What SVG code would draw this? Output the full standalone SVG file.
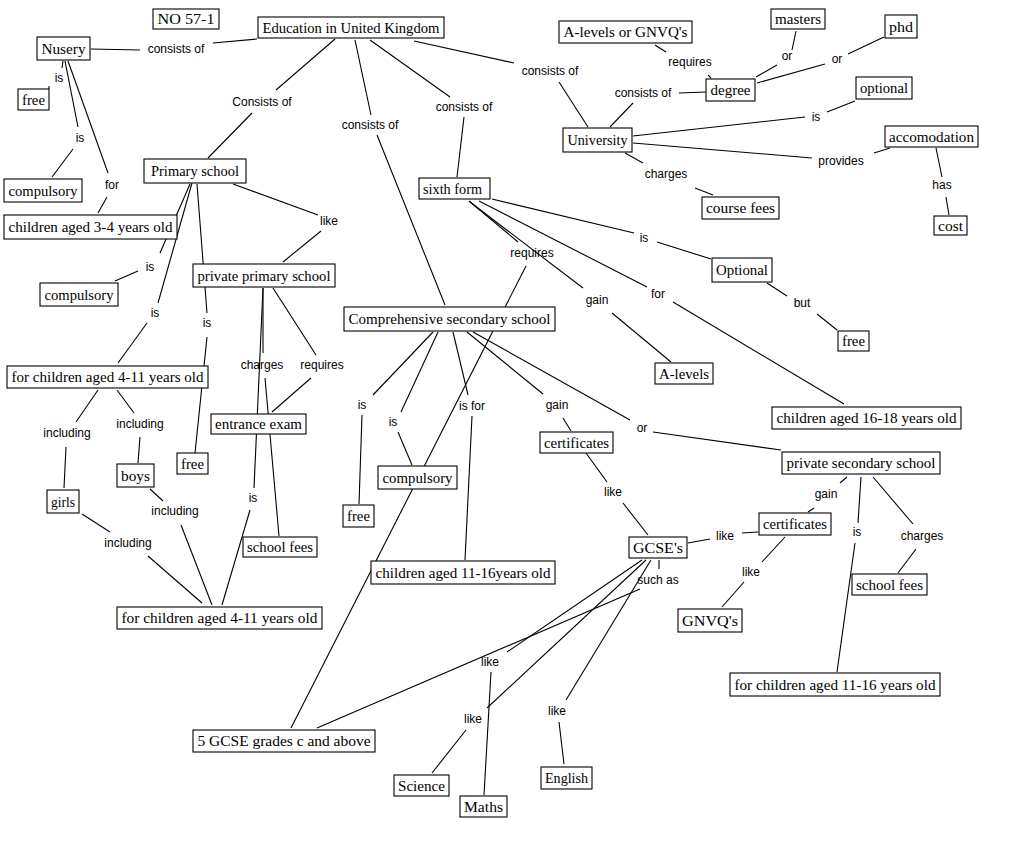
<svg xmlns="http://www.w3.org/2000/svg" width="1021" height="858" viewBox="0 0 1021 858">
<style>
.bg{fill:#fff}
.c line{stroke:#000;stroke-width:1.1;fill:none}
.n rect{fill:#fff;stroke:#000;stroke-width:1.1}
.n text{font-family:"Liberation Serif","Times New Roman",serif;font-size:14px;fill:#000}
.l text{font-family:"Liberation Sans",Arial,sans-serif;font-size:12px;fill:#000;text-anchor:middle}
</style>
<rect class="bg" x="0" y="0" width="1021" height="858"/>
<g id="connectors" class="c">
<line x1="91" y1="49" x2="140" y2="50"/>
<line x1="213" y1="43" x2="257" y2="39"/>
<line x1="63" y1="61" x2="62" y2="68"/>
<line x1="49" y1="86" x2="49" y2="89"/>
<line x1="65" y1="61" x2="78" y2="127"/>
<line x1="73" y1="149" x2="52" y2="177"/>
<line x1="68" y1="61" x2="108" y2="173"/>
<line x1="107" y1="197" x2="98" y2="213"/>
<line x1="335" y1="39" x2="276" y2="90"/>
<line x1="252" y1="113" x2="208" y2="158"/>
<line x1="233" y1="184" x2="318" y2="215"/>
<line x1="321" y1="231" x2="283" y2="262"/>
<line x1="190" y1="184" x2="160" y2="253"/>
<line x1="138" y1="271" x2="115" y2="281"/>
<line x1="192" y1="183" x2="158" y2="303"/>
<line x1="147" y1="323" x2="118" y2="363"/>
<line x1="197" y1="184" x2="207" y2="313"/>
<line x1="207" y1="337" x2="195" y2="453"/>
<line x1="263" y1="288" x2="263" y2="353"/>
<line x1="265" y1="378" x2="279" y2="536"/>
<line x1="263" y1="288" x2="254" y2="488"/>
<line x1="250" y1="510" x2="222" y2="605"/>
<line x1="273" y1="288" x2="316" y2="355"/>
<line x1="311" y1="378" x2="272" y2="412"/>
<line x1="98" y1="390" x2="76" y2="422"/>
<line x1="66" y1="447" x2="64" y2="488"/>
<line x1="117" y1="390" x2="134" y2="413"/>
<line x1="140" y1="437" x2="138" y2="463"/>
<line x1="150" y1="489" x2="163" y2="501"/>
<line x1="181" y1="525" x2="212" y2="605"/>
<line x1="82" y1="514" x2="110" y2="532"/>
<line x1="148" y1="556" x2="202" y2="603"/>
<line x1="355" y1="40" x2="371" y2="115"/>
<line x1="377" y1="135" x2="445" y2="305"/>
<line x1="370" y1="40" x2="450" y2="97"/>
<line x1="464" y1="117" x2="457" y2="177"/>
<line x1="414" y1="41" x2="514" y2="63"/>
<line x1="559" y1="82" x2="588" y2="127"/>
<line x1="610" y1="127" x2="633" y2="103"/>
<line x1="679" y1="93" x2="706" y2="92"/>
<line x1="655" y1="45" x2="666" y2="52"/>
<line x1="708" y1="75" x2="711" y2="78"/>
<line x1="756" y1="77" x2="777" y2="65"/>
<line x1="792" y1="50" x2="796" y2="31"/>
<line x1="757" y1="83" x2="825" y2="64"/>
<line x1="848" y1="54" x2="884" y2="37"/>
<line x1="633" y1="136" x2="805" y2="117"/>
<line x1="827" y1="112" x2="855" y2="101"/>
<line x1="633" y1="143" x2="812" y2="158"/>
<line x1="874" y1="153" x2="890" y2="148"/>
<line x1="936" y1="148" x2="942" y2="177"/>
<line x1="946" y1="197" x2="949" y2="215"/>
<line x1="625" y1="153" x2="643" y2="163"/>
<line x1="695" y1="188" x2="713" y2="195"/>
<line x1="492" y1="199" x2="634" y2="233"/>
<line x1="657" y1="242" x2="711" y2="259"/>
<line x1="767" y1="283" x2="787" y2="296"/>
<line x1="817" y1="314" x2="837" y2="330"/>
<line x1="479" y1="201" x2="647" y2="287"/>
<line x1="673" y1="302" x2="844" y2="404"/>
<line x1="470" y1="202" x2="583" y2="288"/>
<line x1="612" y1="313" x2="671" y2="362"/>
<line x1="469" y1="201" x2="518" y2="242"/>
<line x1="526" y1="266" x2="291" y2="728"/>
<line x1="433" y1="332" x2="373" y2="395"/>
<line x1="362" y1="415" x2="359" y2="504"/>
<line x1="438" y1="332" x2="401" y2="412"/>
<line x1="398" y1="432" x2="412" y2="465"/>
<line x1="453" y1="332" x2="468" y2="395"/>
<line x1="472" y1="416" x2="465" y2="560"/>
<line x1="467" y1="332" x2="543" y2="394"/>
<line x1="563" y1="418" x2="571" y2="431"/>
<line x1="473" y1="332" x2="630" y2="420"/>
<line x1="653" y1="432" x2="781" y2="450"/>
<line x1="586" y1="453" x2="607" y2="482"/>
<line x1="623" y1="503" x2="648" y2="535"/>
<line x1="688" y1="543" x2="710" y2="539"/>
<line x1="742" y1="533" x2="758" y2="532"/>
<line x1="847" y1="477" x2="840" y2="483"/>
<line x1="814" y1="508" x2="808" y2="512"/>
<line x1="785" y1="537" x2="762" y2="562"/>
<line x1="744" y1="582" x2="722" y2="607"/>
<line x1="861" y1="477" x2="858" y2="523"/>
<line x1="855" y1="543" x2="837" y2="672"/>
<line x1="873" y1="477" x2="913" y2="524"/>
<line x1="916" y1="549" x2="898" y2="573"/>
<line x1="659" y1="560" x2="659" y2="569"/>
<line x1="640" y1="589" x2="317" y2="728"/>
<line x1="642" y1="560" x2="507" y2="652"/>
<line x1="491" y1="672" x2="484" y2="795"/>
<line x1="646" y1="560" x2="487" y2="708"/>
<line x1="466" y1="730" x2="432" y2="773"/>
<line x1="651" y1="560" x2="566" y2="700"/>
<line x1="559" y1="722" x2="564" y2="764"/>
</g>
<g id="link-labels" class="l">
<text x="176" y="53">consists of</text>
<text x="59" y="82">is</text>
<text x="80" y="142">is</text>
<text x="112" y="189">for</text>
<text x="262" y="106">Consists of</text>
<text x="370" y="129">consists of</text>
<text x="464" y="111">consists of</text>
<text x="550" y="75">consists of</text>
<text x="643" y="97">consists of</text>
<text x="690" y="66">requires</text>
<text x="787" y="60">or</text>
<text x="837" y="63">or</text>
<text x="816" y="121">is</text>
<text x="841" y="165">provides</text>
<text x="942" y="189">has</text>
<text x="666" y="178">charges</text>
<text x="329" y="225">like</text>
<text x="150" y="271">is</text>
<text x="155" y="317">is</text>
<text x="207" y="327">is</text>
<text x="262" y="369">charges</text>
<text x="322" y="369">requires</text>
<text x="67" y="437">including</text>
<text x="140" y="428">including</text>
<text x="175" y="515">including</text>
<text x="128" y="547">including</text>
<text x="253" y="502">is</text>
<text x="532" y="257">requires</text>
<text x="597" y="304">gain</text>
<text x="658" y="298">for</text>
<text x="644" y="242">is</text>
<text x="802" y="307">but</text>
<text x="362" y="409">is</text>
<text x="393" y="426">is</text>
<text x="472" y="410">is for</text>
<text x="557" y="409">gain</text>
<text x="642" y="432">or</text>
<text x="613" y="496">like</text>
<text x="826" y="498">gain</text>
<text x="725" y="540">like</text>
<text x="751" y="576">like</text>
<text x="857" y="536">is</text>
<text x="922" y="540">charges</text>
<text x="658" y="584">such as</text>
<text x="490" y="666">like</text>
<text x="473" y="723">like</text>
<text x="557" y="715">like</text>
</g>
<g id="n-no57" class="n"><rect x="153" y="9" width="66" height="20"/><text x="157.5" y="24" textLength="57" lengthAdjust="spacingAndGlyphs">NO 57-1</text></g>
<g id="n-edu" class="n"><rect x="258" y="17" width="186" height="21"/><text x="262.5" y="32.5" textLength="177" lengthAdjust="spacingAndGlyphs">Education in United Kingdom</text></g>
<g id="n-nusery" class="n"><rect x="37" y="37" width="53" height="23"/><text x="41.5" y="53.5" textLength="44" lengthAdjust="spacingAndGlyphs">Nusery</text></g>
<g id="n-free1" class="n"><rect x="18" y="89" width="31" height="21"/><text x="22" y="104.5" textLength="23" lengthAdjust="spacingAndGlyphs">free</text></g>
<g id="n-compulsory1" class="n"><rect x="4" y="179" width="78" height="23"/><text x="8.5" y="195.5" textLength="69" lengthAdjust="spacingAndGlyphs">compulsory</text></g>
<g id="n-children34" class="n"><rect x="4" y="215" width="173" height="24"/><text x="8.5" y="232" textLength="164" lengthAdjust="spacingAndGlyphs">children aged 3-4 years old</text></g>
<g id="n-primary" class="n"><rect x="144" y="159" width="102" height="24"/><text x="151" y="176" textLength="88" lengthAdjust="spacingAndGlyphs">Primary school</text></g>
<g id="n-privprimary" class="n"><rect x="193" y="264" width="142" height="23"/><text x="197.5" y="280.5" textLength="133" lengthAdjust="spacingAndGlyphs">private primary school</text></g>
<g id="n-compulsory2" class="n"><rect x="40" y="283" width="78" height="23"/><text x="44.5" y="299.5" textLength="69" lengthAdjust="spacingAndGlyphs">compulsory</text></g>
<g id="n-children411a" class="n"><rect x="7" y="366" width="201" height="22"/><text x="11.5" y="382" textLength="192" lengthAdjust="spacingAndGlyphs">for children aged 4-11 years old</text></g>
<g id="n-girls" class="n"><rect x="47" y="490" width="32" height="23"/><text x="51" y="506.5" textLength="24" lengthAdjust="spacingAndGlyphs">girls</text></g>
<g id="n-boys" class="n"><rect x="117" y="464" width="37" height="23"/><text x="121" y="480.5" textLength="29" lengthAdjust="spacingAndGlyphs">boys</text></g>
<g id="n-free2" class="n"><rect x="177" y="453" width="31" height="21"/><text x="181" y="468.5" textLength="23" lengthAdjust="spacingAndGlyphs">free</text></g>
<g id="n-entrance" class="n"><rect x="211" y="414" width="95" height="20"/><text x="215" y="429" textLength="87" lengthAdjust="spacingAndGlyphs">entrance exam</text></g>
<g id="n-schoolfees1" class="n"><rect x="243" y="537" width="74" height="20"/><text x="247" y="552" textLength="66" lengthAdjust="spacingAndGlyphs">school fees</text></g>
<g id="n-children411b" class="n"><rect x="117" y="607" width="205" height="22"/><text x="121.5" y="623" textLength="196" lengthAdjust="spacingAndGlyphs">for children aged 4-11 years old</text></g>
<g id="n-sixth" class="n"><rect x="419" y="178" width="71" height="21"/><text x="423" y="193.5" textLength="59" lengthAdjust="spacingAndGlyphs">sixth form</text></g>
<g id="n-comprehensive" class="n"><rect x="344" y="307" width="211" height="24"/><text x="348.5" y="324" textLength="202" lengthAdjust="spacingAndGlyphs">Comprehensive secondary school</text></g>
<g id="n-free3" class="n"><rect x="343" y="505" width="31" height="22"/><text x="347" y="521" textLength="23" lengthAdjust="spacingAndGlyphs">free</text></g>
<g id="n-compulsory3" class="n"><rect x="378" y="466" width="79" height="23"/><text x="382.5" y="482.5" textLength="70" lengthAdjust="spacingAndGlyphs">compulsory</text></g>
<g id="n-children1116" class="n"><rect x="371" y="561" width="184" height="23"/><text x="375.5" y="577.5" textLength="175" lengthAdjust="spacingAndGlyphs">children aged 11-16years old</text></g>
<g id="n-certificates1" class="n"><rect x="540" y="432" width="73" height="21"/><text x="544" y="447.5" textLength="65" lengthAdjust="spacingAndGlyphs">certificates</text></g>
<g id="n-alevels" class="n"><rect x="655" y="363" width="58" height="21"/><text x="659" y="378.5" textLength="50" lengthAdjust="spacingAndGlyphs">A-levels</text></g>
<g id="n-gcses" class="n"><rect x="629" y="537" width="58" height="21"/><text x="633" y="552.5" textLength="50" lengthAdjust="spacingAndGlyphs">GCSE's</text></g>
<g id="n-university" class="n"><rect x="563" y="128" width="69" height="24"/><text x="567.5" y="145" textLength="60" lengthAdjust="spacingAndGlyphs">University</text></g>
<g id="n-alevelsgnvq" class="n"><rect x="559" y="21" width="133" height="22"/><text x="563.5" y="37" textLength="124" lengthAdjust="spacingAndGlyphs">A-levels or GNVQ's</text></g>
<g id="n-degree" class="n"><rect x="706" y="79" width="49" height="22"/><text x="710.5" y="95" textLength="40" lengthAdjust="spacingAndGlyphs">degree</text></g>
<g id="n-masters" class="n"><rect x="771" y="9" width="54" height="20"/><text x="775" y="24" textLength="46" lengthAdjust="spacingAndGlyphs">masters</text></g>
<g id="n-phd" class="n"><rect x="885" y="15" width="32" height="23"/><text x="889" y="31.5" textLength="24" lengthAdjust="spacingAndGlyphs">phd</text></g>
<g id="n-optional" class="n"><rect x="856" y="77" width="56" height="22"/><text x="860" y="93" textLength="48" lengthAdjust="spacingAndGlyphs">optional</text></g>
<g id="n-accomodation" class="n"><rect x="885" y="126" width="93" height="21"/><text x="889" y="141.5" textLength="85" lengthAdjust="spacingAndGlyphs">accomodation</text></g>
<g id="n-cost" class="n"><rect x="934" y="216" width="33" height="19"/><text x="938" y="230.5" textLength="25" lengthAdjust="spacingAndGlyphs">cost</text></g>
<g id="n-coursefees" class="n"><rect x="702" y="197" width="77" height="22"/><text x="706" y="213" textLength="69" lengthAdjust="spacingAndGlyphs">course fees</text></g>
<g id="n-Optional" class="n"><rect x="712" y="258" width="60" height="24"/><text x="716" y="275" textLength="52" lengthAdjust="spacingAndGlyphs">Optional</text></g>
<g id="n-free4" class="n"><rect x="838" y="331" width="31" height="20"/><text x="842" y="346" textLength="23" lengthAdjust="spacingAndGlyphs">free</text></g>
<g id="n-children1618" class="n"><rect x="772" y="407" width="189" height="22"/><text x="776.5" y="423" textLength="180" lengthAdjust="spacingAndGlyphs">children aged 16-18 years old</text></g>
<g id="n-privsecondary" class="n"><rect x="782" y="452" width="158" height="22"/><text x="786.5" y="468" textLength="149" lengthAdjust="spacingAndGlyphs">private secondary school</text></g>
<g id="n-certificates2" class="n"><rect x="759" y="513" width="72" height="22"/><text x="763" y="529" textLength="64" lengthAdjust="spacingAndGlyphs">certificates</text></g>
<g id="n-schoolfees2" class="n"><rect x="852" y="574" width="75" height="21"/><text x="856" y="589.5" textLength="67" lengthAdjust="spacingAndGlyphs">school fees</text></g>
<g id="n-gnvqs" class="n"><rect x="678" y="609" width="64" height="23"/><text x="682" y="625.5" textLength="56" lengthAdjust="spacingAndGlyphs">GNVQ's</text></g>
<g id="n-children1116b" class="n"><rect x="730" y="673" width="210" height="23"/><text x="734.5" y="689.5" textLength="201" lengthAdjust="spacingAndGlyphs">for children aged 11-16 years old</text></g>
<g id="n-gcse5" class="n"><rect x="193" y="730" width="182" height="22"/><text x="197.5" y="746" textLength="173" lengthAdjust="spacingAndGlyphs">5 GCSE grades c and above</text></g>
<g id="n-science" class="n"><rect x="394" y="775" width="55" height="21"/><text x="398" y="790.5" textLength="47" lengthAdjust="spacingAndGlyphs">Science</text></g>
<g id="n-maths" class="n"><rect x="460" y="796" width="47" height="21"/><text x="464" y="811.5" textLength="39" lengthAdjust="spacingAndGlyphs">Maths</text></g>
<g id="n-english" class="n"><rect x="541" y="767" width="51" height="22"/><text x="545" y="783" textLength="43" lengthAdjust="spacingAndGlyphs">English</text></g>
</svg>
